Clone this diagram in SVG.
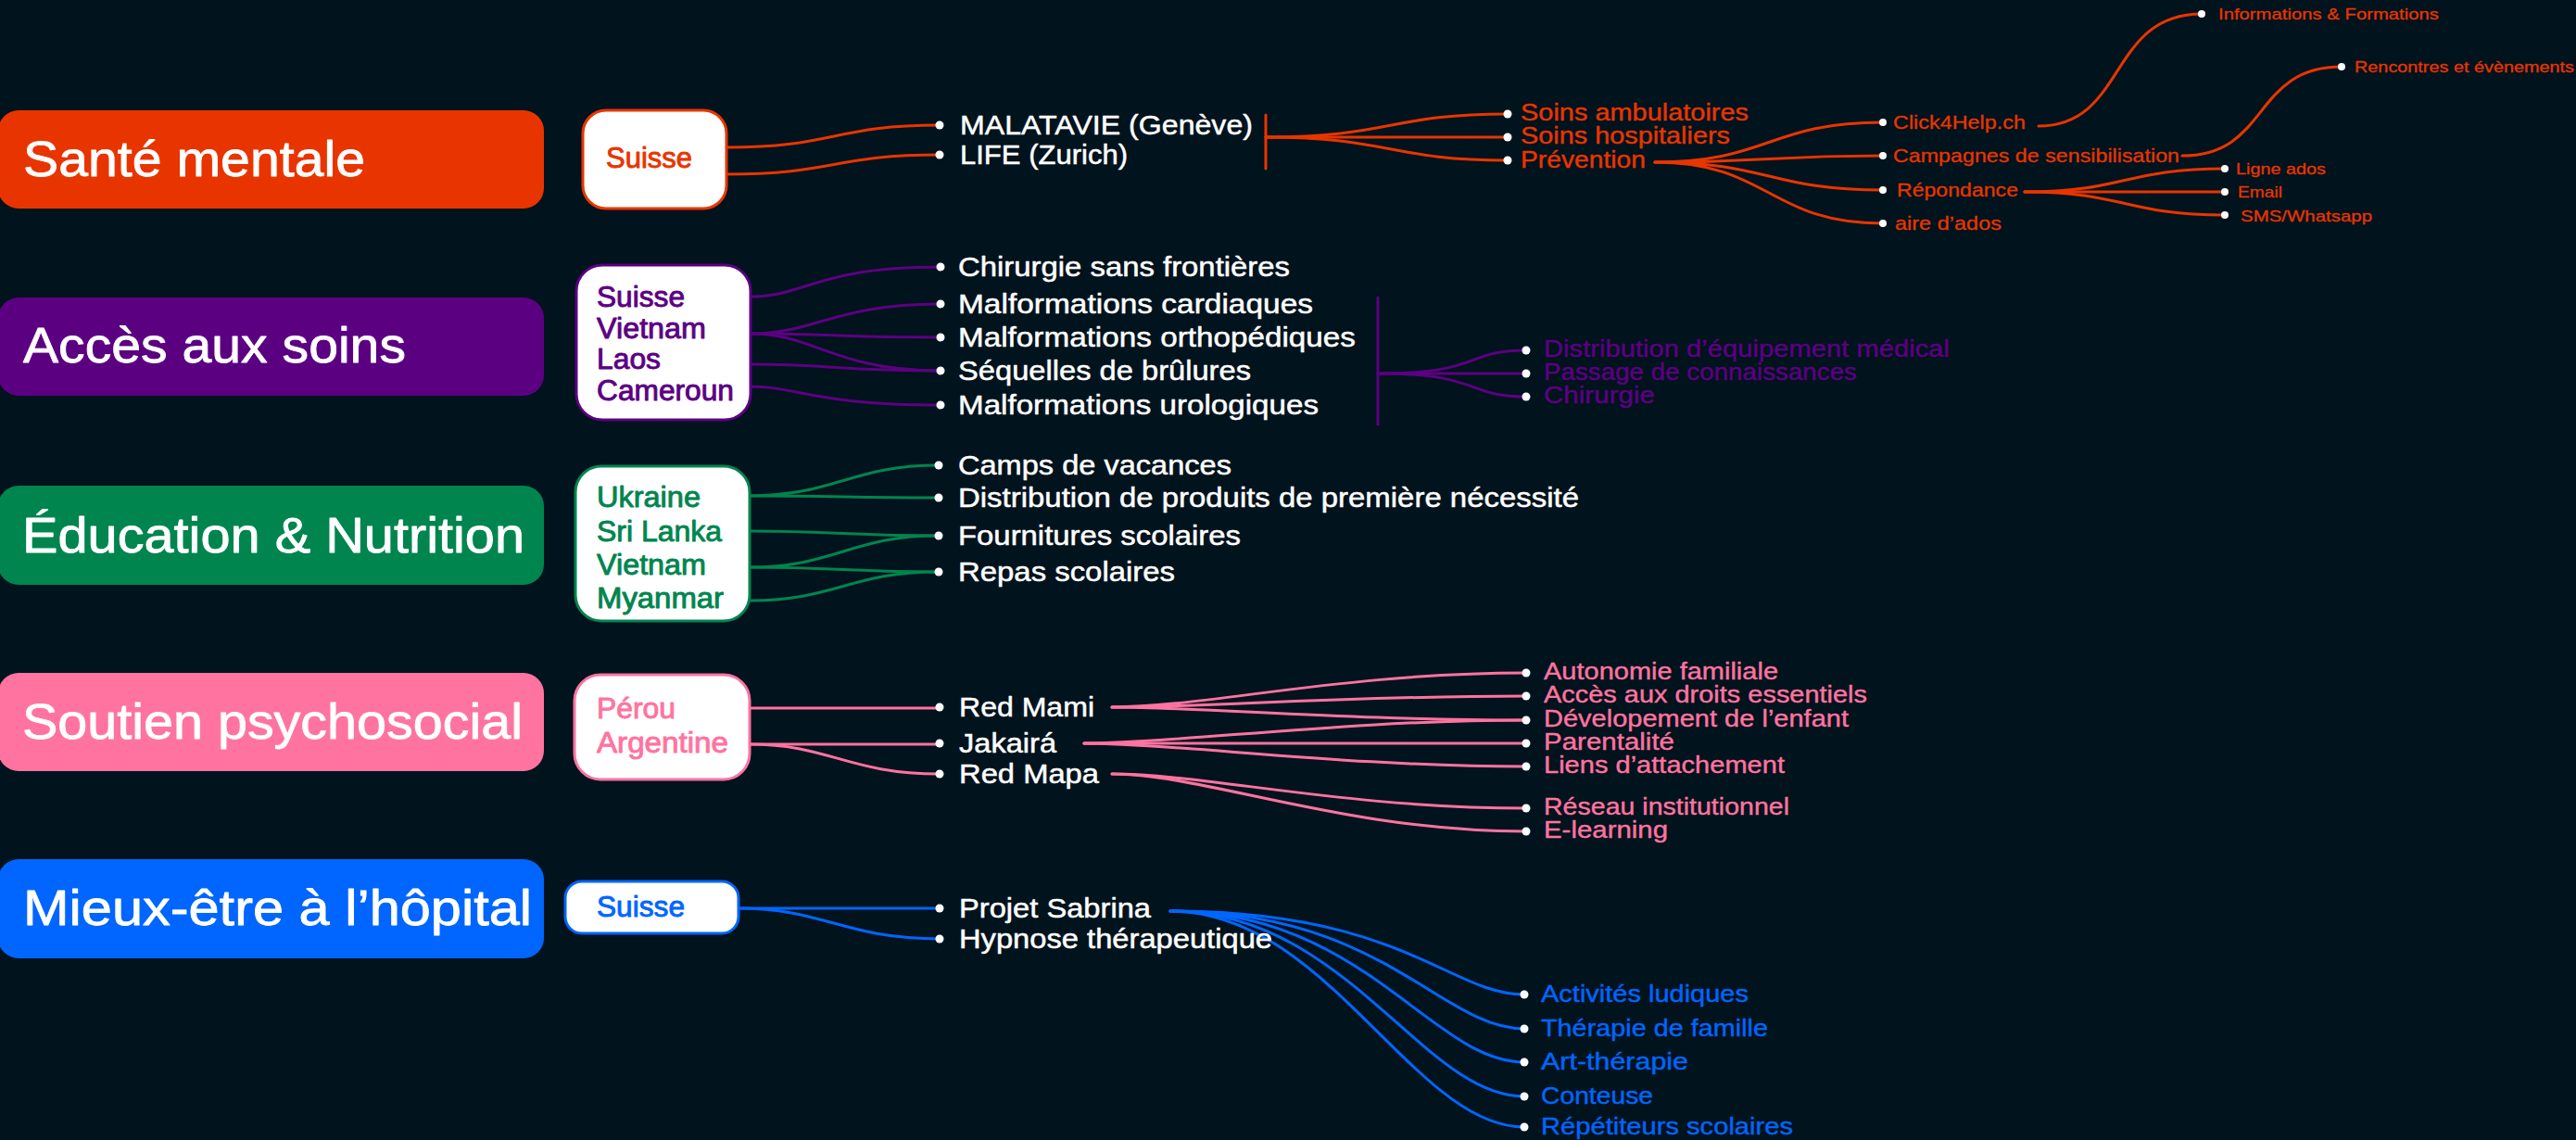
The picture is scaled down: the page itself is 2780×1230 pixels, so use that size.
<svg xmlns="http://www.w3.org/2000/svg" width="2780" height="1230" viewBox="0 0 2780 1230">
<style>
text{font-family:"Liberation Sans",Arial,sans-serif;paint-order:stroke;stroke-linejoin:round}
.cat{fill:#fff;stroke:#fff;stroke-width:0.8px;font-size:53px}
.cty{font-size:31px;stroke-width:0.9px}
.it{fill:#fff;stroke:#fff;stroke-width:0.5px;font-size:30px}
.l2{font-size:26px;stroke-width:0.4px}
.l3{font-size:21px;stroke-width:0.3px}
.l4{font-size:17px;stroke-width:0.3px}
.c{fill:none;stroke-width:3;stroke-linecap:round}
.or{stroke:#e83500}.pu{stroke:#5c0082}.gr{stroke:#00854f}.pk{stroke:#ff73a0}.bl{stroke:#0066ff}
.tor{fill:#e83500;stroke:#e83500}.tpu{fill:#5c0082;stroke:#5c0082}.tgr{fill:#00854f;stroke:#00854f}.tpk{fill:#ff73a0;stroke:#ff73a0}.tbl{fill:#0066ff;stroke:#0066ff}
.dot{fill:#fff}
.box{fill:#fff;stroke-width:3}
</style>
<rect width="2780" height="1230" fill="#01131d"/>

<g id="connectors">
<path class="c or" d="M784,159 C900,159 900,135 1014,135"/>
<path class="c or" d="M784,188 C900,188 900,167 1014,167"/>
<path class="c or" d="M1366,124 V182"/>
<path class="c or" d="M1366,148 C1500,148 1500,123 1627,123"/>
<path class="c or" d="M1366,148 H1627"/>
<path class="c or" d="M1366,148 C1500,148 1500,173 1627,173"/>
<path class="c or" d="M1786,175 C1909,175 1909,132 2032,132"/>
<path class="c or" d="M1786,175 C1909,175 1909,168 2032,168"/>
<path class="c or" d="M1786,175 C1909,175 1909,205 2032,205"/>
<path class="c or" d="M1786,175 C1909,175 1909,241 2032,241"/>
<path class="c or" d="M2200,136 C2295,136 2275,15 2376,15"/>
<path class="c or" d="M2355,168 C2450,168 2430,72 2527,72"/>
<path class="c or" d="M2185,207 C2293,207 2293,182 2401,182"/>
<path class="c or" d="M2185,207 H2401"/>
<path class="c or" d="M2185,207 C2293,207 2293,232 2401,232"/>
<path class="c pu" d="M810,320 C870,320 880,288 1015,288"/>
<path class="c pu" d="M810,360 C880,360 900,328 1015,328"/>
<path class="c pu" d="M810,360 C900,360 900,364 1015,364"/>
<path class="c pu" d="M810,360 C880,360 900,400 1015,400"/>
<path class="c pu" d="M810,393 C900,393 900,400 1015,400"/>
<path class="c pu" d="M810,417 C860,417 880,437 1015,437"/>
<path class="c pu" d="M1487,321 V458"/>
<path class="c pu" d="M1487,403 C1600,403 1580,378 1647,378"/>
<path class="c pu" d="M1487,403 H1647"/>
<path class="c pu" d="M1487,403 C1600,403 1580,428 1647,428"/>
<path class="c gr" d="M809,535 C900,535 920,502 1011,502"/>
<path class="c gr" d="M809,535 C900,535 920,537 1011,537"/>
<path class="c gr" d="M809,573 C900,573 920,578 1011,578"/>
<path class="c gr" d="M809,612 C900,612 920,578 1011,578"/>
<path class="c gr" d="M809,612 C900,612 920,617 1011,617"/>
<path class="c gr" d="M809,648 C900,648 920,617 1011,617"/>
<path class="c pk" d="M809,764 H1014"/>
<path class="c pk" d="M809,803 H1014"/>
<path class="c pk" d="M809,803 C895,803 915,835 1014,835"/>
<path class="c pk" d="M1200,763 C1300,763 1450,726 1647,726"/>
<path class="c pk" d="M1200,763 C1300,763 1450,751 1647,751"/>
<path class="c pk" d="M1200,763 C1300,763 1450,777 1647,777"/>
<path class="c pk" d="M1170,802 C1270,802 1450,777 1647,777"/>
<path class="c pk" d="M1170,802 H1647"/>
<path class="c pk" d="M1170,802 C1270,802 1450,827 1647,827"/>
<path class="c pk" d="M1200,835 C1300,835 1450,872 1647,872"/>
<path class="c pk" d="M1200,835 C1300,835 1450,897 1647,897"/>
<path class="c bl" d="M797,980 H1014"/>
<path class="c bl" d="M797,980 C890,980 910,1013 1014,1013"/>
<path class="c bl" d="M1263,983 C1513,983 1565,1073 1645,1073"/>
<path class="c bl" d="M1263,983 C1493,983 1555,1110 1645,1110"/>
<path class="c bl" d="M1263,983 C1473,983 1545,1146 1645,1146"/>
<path class="c bl" d="M1263,983 C1453,983 1535,1183 1645,1183"/>
<path class="c bl" d="M1263,983 C1433,983 1525,1216 1645,1216"/>
</g>

<g id="cat-sante"><rect x="-2" y="119" width="589" height="106" rx="22" fill="#e83500"/><text class="cat" x="25" y="190" textLength="369" lengthAdjust="spacingAndGlyphs">Santé mentale</text></g>
<g id="cat-acces"><rect x="-2" y="321" width="589" height="106" rx="22" fill="#5c0082"/><text class="cat" x="25" y="391" textLength="413" lengthAdjust="spacingAndGlyphs">Accès aux soins</text></g>
<g id="cat-education"><rect x="-2" y="524" width="589" height="107" rx="22" fill="#00854f"/><text class="cat" x="24" y="596" textLength="542" lengthAdjust="spacingAndGlyphs">Éducation &amp; Nutrition</text></g>
<g id="cat-soutien"><rect x="-2" y="726" width="589" height="106" rx="22" fill="#ff73a0"/><text class="cat" x="24" y="797" textLength="540" lengthAdjust="spacingAndGlyphs">Soutien psychosocial</text></g>
<g id="cat-mieux"><rect x="-2" y="927" width="589" height="107" rx="22" fill="#0066ff"/><text class="cat" x="25" y="998" textLength="549" lengthAdjust="spacingAndGlyphs">Mieux-être à l’hôpital</text></g>

<g id="cty-1"><rect class="box" x="629" y="119" width="155" height="106" rx="25" stroke="#e83500"/><text class="cty tor" x="654" y="181" textLength="93" lengthAdjust="spacingAndGlyphs">Suisse</text></g>
<g id="cty-2"><rect class="box" x="622" y="286" width="188" height="167" rx="28" stroke="#5c0082"/>
<text class="cty tpu" x="644" y="331" textLength="95" lengthAdjust="spacingAndGlyphs">Suisse</text>
<text class="cty tpu" x="644" y="365" textLength="118" lengthAdjust="spacingAndGlyphs">Vietnam</text>
<text class="cty tpu" x="644" y="398" textLength="69" lengthAdjust="spacingAndGlyphs">Laos</text>
<text class="cty tpu" x="644" y="432" textLength="148" lengthAdjust="spacingAndGlyphs">Cameroun</text></g>
<g id="cty-3"><rect class="box" x="621" y="503" width="188" height="167" rx="28" stroke="#00854f"/>
<text class="cty tgr" x="644" y="547" textLength="112" lengthAdjust="spacingAndGlyphs">Ukraine</text>
<text class="cty tgr" x="644" y="584" textLength="135" lengthAdjust="spacingAndGlyphs">Sri Lanka</text>
<text class="cty tgr" x="644" y="620" textLength="118" lengthAdjust="spacingAndGlyphs">Vietnam</text>
<text class="cty tgr" x="644" y="656" textLength="137" lengthAdjust="spacingAndGlyphs">Myanmar</text></g>
<g id="cty-4"><rect class="box" x="620" y="728" width="189" height="113" rx="28" stroke="#ff73a0"/>
<text class="cty tpk" x="644" y="775" textLength="85" lengthAdjust="spacingAndGlyphs">Pérou</text>
<text class="cty tpk" x="644" y="812" textLength="142" lengthAdjust="spacingAndGlyphs">Argentine</text></g>
<g id="cty-5"><rect class="box" x="610" y="951" width="187" height="56" rx="18" stroke="#0066ff"/>
<text class="cty tbl" x="644" y="989" textLength="95" lengthAdjust="spacingAndGlyphs">Suisse</text></g>

<g id="n-malatavie"><circle class="dot" cx="1014" cy="135" r="4.5"/><text class="it" x="1036" y="145" textLength="316" lengthAdjust="spacingAndGlyphs">MALATAVIE (Genève)</text></g>
<g id="n-life"><circle class="dot" cx="1014" cy="167" r="4.5"/><text class="it" x="1036" y="177" textLength="181" lengthAdjust="spacingAndGlyphs">LIFE (Zurich)</text></g>
<g id="n-ambu"><circle class="dot" cx="1627" cy="123" r="4.5"/><text class="l2 tor" x="1641" y="130" textLength="246" lengthAdjust="spacingAndGlyphs">Soins ambulatoires</text></g>
<g id="n-hosp"><circle class="dot" cx="1627" cy="148" r="4.5"/><text class="l2 tor" x="1641" y="155" textLength="226" lengthAdjust="spacingAndGlyphs">Soins hospitaliers</text></g>
<g id="n-prev"><circle class="dot" cx="1627" cy="173" r="4.5"/><text class="l2 tor" x="1641" y="181" textLength="135" lengthAdjust="spacingAndGlyphs">Prévention</text></g>
<g id="n-click"><circle class="dot" cx="2032" cy="132" r="4"/><text class="l3 tor" x="2043" y="139" textLength="143" lengthAdjust="spacingAndGlyphs">Click4Help.ch</text></g>
<g id="n-camp"><circle class="dot" cx="2032" cy="168" r="4"/><text class="l3 tor" x="2043" y="175" textLength="309" lengthAdjust="spacingAndGlyphs">Campagnes de sensibilisation</text></g>
<g id="n-rep"><circle class="dot" cx="2032" cy="205" r="4"/><text class="l3 tor" x="2047" y="212" textLength="131" lengthAdjust="spacingAndGlyphs">Répondance</text></g>
<g id="n-aire"><circle class="dot" cx="2032" cy="241" r="4"/><text class="l3 tor" x="2045" y="248" textLength="115" lengthAdjust="spacingAndGlyphs">aire d’ados</text></g>
<g id="n-info"><circle class="dot" cx="2376" cy="15" r="4"/><text class="l4 tor" x="2394" y="21" textLength="238" lengthAdjust="spacingAndGlyphs">Informations &amp; Formations</text></g>
<g id="n-renc"><circle class="dot" cx="2527" cy="72" r="4"/><text class="l4 tor" x="2541" y="78" textLength="237" lengthAdjust="spacingAndGlyphs">Rencontres et évènements</text></g>
<g id="n-ligne"><circle class="dot" cx="2401" cy="182" r="4"/><text class="l4 tor" x="2413" y="188" textLength="97" lengthAdjust="spacingAndGlyphs">Ligne ados</text></g>
<g id="n-email"><circle class="dot" cx="2401" cy="207" r="4"/><text class="l4 tor" x="2415" y="213" textLength="48" lengthAdjust="spacingAndGlyphs">Email</text></g>
<g id="n-sms"><circle class="dot" cx="2401" cy="232" r="4"/><text class="l4 tor" x="2418" y="239" textLength="142" lengthAdjust="spacingAndGlyphs">SMS/Whatsapp</text></g>

<g id="n-chir-sf"><circle class="dot" cx="1015" cy="288" r="4.5"/><text class="it" x="1034" y="298" textLength="358" lengthAdjust="spacingAndGlyphs">Chirurgie sans frontières</text></g>
<g id="n-malf-card"><circle class="dot" cx="1015" cy="328" r="4.5"/><text class="it" x="1034" y="338" textLength="383" lengthAdjust="spacingAndGlyphs">Malformations cardiaques</text></g>
<g id="n-malf-ortho"><circle class="dot" cx="1015" cy="364" r="4.5"/><text class="it" x="1034" y="374" textLength="429" lengthAdjust="spacingAndGlyphs">Malformations orthopédiques</text></g>
<g id="n-seq"><circle class="dot" cx="1015" cy="400" r="4.5"/><text class="it" x="1034" y="410" textLength="316" lengthAdjust="spacingAndGlyphs">Séquelles de brûlures</text></g>
<g id="n-malf-uro"><circle class="dot" cx="1015" cy="437" r="4.5"/><text class="it" x="1034" y="447" textLength="389" lengthAdjust="spacingAndGlyphs">Malformations urologiques</text></g>
<g id="n-distrib-med"><circle class="dot" cx="1647" cy="378" r="4.5"/><text class="l2 tpu" x="1666" y="385" textLength="438" lengthAdjust="spacingAndGlyphs">Distribution d’équipement médical</text></g>
<g id="n-passage"><circle class="dot" cx="1647" cy="403" r="4.5"/><text class="l2 tpu" x="1666" y="410" textLength="338" lengthAdjust="spacingAndGlyphs">Passage de connaissances</text></g>
<g id="n-chir"><circle class="dot" cx="1647" cy="428" r="4.5"/><text class="l2 tpu" x="1666" y="435" textLength="120" lengthAdjust="spacingAndGlyphs">Chirurgie</text></g>

<g id="n-camps"><circle class="dot" cx="1013" cy="502" r="4.5"/><text class="it" x="1034" y="512" textLength="295" lengthAdjust="spacingAndGlyphs">Camps de vacances</text></g>
<g id="n-distrib"><circle class="dot" cx="1013" cy="537" r="4.5"/><text class="it" x="1034" y="547" textLength="670" lengthAdjust="spacingAndGlyphs">Distribution de produits de première nécessité</text></g>
<g id="n-fourn"><circle class="dot" cx="1013" cy="578" r="4.5"/><text class="it" x="1034" y="588" textLength="305" lengthAdjust="spacingAndGlyphs">Fournitures scolaires</text></g>
<g id="n-repas"><circle class="dot" cx="1013" cy="617" r="4.5"/><text class="it" x="1034" y="627" textLength="234" lengthAdjust="spacingAndGlyphs">Repas scolaires</text></g>

<g id="n-redmami"><circle class="dot" cx="1014" cy="763" r="4.5"/><text class="it" x="1035" y="773" textLength="146" lengthAdjust="spacingAndGlyphs">Red Mami</text></g>
<g id="n-jakaira"><circle class="dot" cx="1014" cy="802" r="4.5"/><text class="it" x="1035" y="812" textLength="105" lengthAdjust="spacingAndGlyphs">Jakairá</text></g>
<g id="n-redmapa"><circle class="dot" cx="1014" cy="835" r="4.5"/><text class="it" x="1035" y="845" textLength="151" lengthAdjust="spacingAndGlyphs">Red Mapa</text></g>
<g id="n-auto"><circle class="dot" cx="1647" cy="726" r="4.5"/><text class="l2 tpk" x="1666" y="733" textLength="253" lengthAdjust="spacingAndGlyphs">Autonomie familiale</text></g>
<g id="n-droits"><circle class="dot" cx="1647" cy="751" r="4.5"/><text class="l2 tpk" x="1666" y="758" textLength="349" lengthAdjust="spacingAndGlyphs">Accès aux droits essentiels</text></g>
<g id="n-dev"><circle class="dot" cx="1647" cy="777" r="4.5"/><text class="l2 tpk" x="1666" y="784" textLength="329" lengthAdjust="spacingAndGlyphs">Dévelopement de l’enfant</text></g>
<g id="n-parent"><circle class="dot" cx="1647" cy="802" r="4.5"/><text class="l2 tpk" x="1666" y="809" textLength="141" lengthAdjust="spacingAndGlyphs">Parentalité</text></g>
<g id="n-liens"><circle class="dot" cx="1647" cy="827" r="4.5"/><text class="l2 tpk" x="1666" y="834" textLength="260" lengthAdjust="spacingAndGlyphs">Liens d’attachement</text></g>
<g id="n-reseau"><circle class="dot" cx="1647" cy="872" r="4.5"/><text class="l2 tpk" x="1666" y="879" textLength="265" lengthAdjust="spacingAndGlyphs">Réseau institutionnel</text></g>
<g id="n-elearn"><circle class="dot" cx="1647" cy="897" r="4.5"/><text class="l2 tpk" x="1666" y="904" textLength="134" lengthAdjust="spacingAndGlyphs">E-learning</text></g>

<g id="n-sabrina"><circle class="dot" cx="1014" cy="980" r="4.5"/><text class="it" x="1035" y="990" textLength="207" lengthAdjust="spacingAndGlyphs">Projet Sabrina</text></g>
<g id="n-hypnose"><circle class="dot" cx="1014" cy="1013" r="4.5"/><text class="it" x="1035" y="1023" textLength="338" lengthAdjust="spacingAndGlyphs">Hypnose thérapeutique</text></g>
<g id="n-activ"><circle class="dot" cx="1645" cy="1073" r="4.5"/><text class="l2 tbl" x="1663" y="1081" textLength="224" lengthAdjust="spacingAndGlyphs">Activités ludiques</text></g>
<g id="n-therap"><circle class="dot" cx="1645" cy="1110" r="4.5"/><text class="l2 tbl" x="1663" y="1118" textLength="245" lengthAdjust="spacingAndGlyphs">Thérapie de famille</text></g>
<g id="n-art"><circle class="dot" cx="1645" cy="1146" r="4.5"/><text class="l2 tbl" x="1663" y="1154" textLength="159" lengthAdjust="spacingAndGlyphs">Art-thérapie</text></g>
<g id="n-conteuse"><circle class="dot" cx="1645" cy="1183" r="4.5"/><text class="l2 tbl" x="1663" y="1191" textLength="121" lengthAdjust="spacingAndGlyphs">Conteuse</text></g>
<g id="n-repet"><circle class="dot" cx="1645" cy="1216" r="4.5"/><text class="l2 tbl" x="1663" y="1224" textLength="272" lengthAdjust="spacingAndGlyphs">Répétiteurs scolaires</text></g>
</svg>
